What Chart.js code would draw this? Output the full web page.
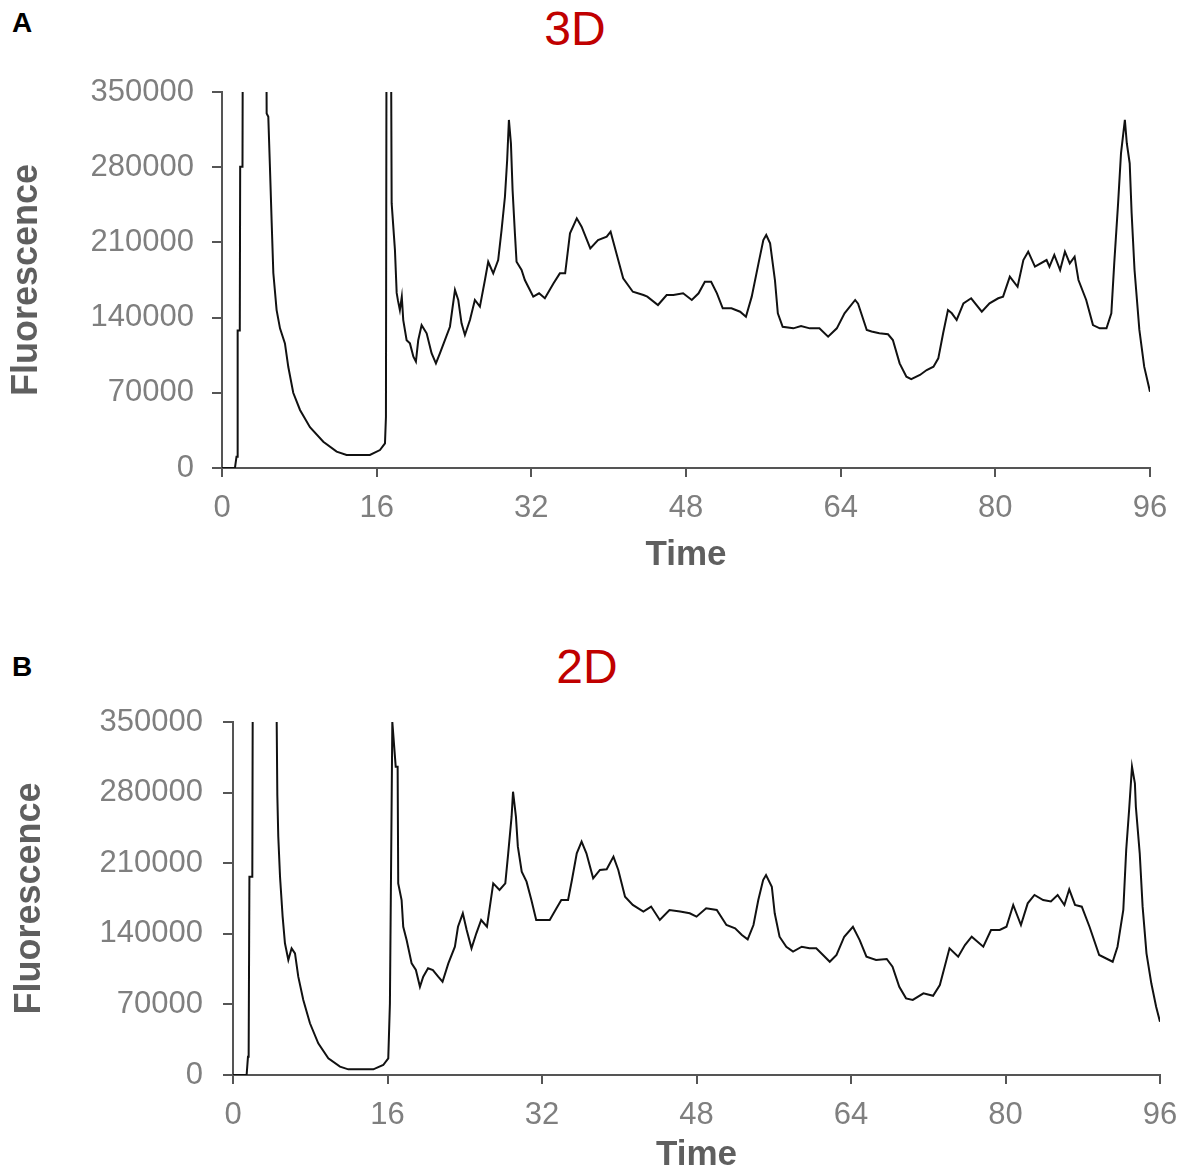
<!DOCTYPE html>
<html>
<head>
<meta charset="utf-8">
<title>Fluorescence 3D / 2D</title>
<script src="https://cdn.jsdelivr.net/npm/chart.js@4.4.0/dist/chart.umd.min.js"></script>
<style>
body{margin:0;background:#fff;font-family:"Liberation Sans",Arial,sans-serif}
#page{position:relative;width:1183px;height:1173px;overflow:hidden}
.panel{position:absolute;left:12px;font-weight:bold;font-size:28px;line-height:28px;color:#000}
.title{position:absolute;color:#c00000;font-size:48px;line-height:48px;transform:translateX(-50%)}
canvas{position:absolute;left:0}
</style>
</head>
<body>
<div id="page">
  <div class="panel" style="top:9px">A</div>
  <div class="title" style="left:575px;top:5px">3D</div>
  <canvas id="chart3d" width="1183" height="590" style="top:0"></canvas>

  <div class="panel" style="top:653px">B</div>
  <div class="title" style="left:587px;top:643px">2D</div>
  <canvas id="chart2d" width="1183" height="543" style="top:630px"></canvas>
</div>

<script>
// tick labels
const timeTicks = [0,16,32,48,64,80,96]
const fluorTicks = [0,70000,140000,210000,280000,350000]

// A - 3D culture (values above 350000 run off the top of the plot)
const time3D = [
  0,1.34,1.5,1.58,1.62,1.84,1.88,2.12,2.2,4.5,
  4.62,4.79,4.96,5.14,5.31,5.65,6.0,6.51,6.86,7.37,
  8.07,9.1,10.48,11.86,12.89,15.3,16.34,16.86,16.96,17.05,
  17.4,17.55,17.89,18.07,18.2,18.4,18.6,18.75,19.1,19.44,
  19.8,20.06,20.3,20.65,21.17,21.68,22.13,22.54,23.06,23.58,
  24.1,24.44,24.78,25.13,25.65,26.16,26.68,27.2,27.54,28.06,
  28.57,28.92,29.27,29.5,29.68,29.89,30.06,30.3,30.47,30.99,
  31.33,31.68,32.2,32.8,33.4,34.3,34.95,35.5,36.0,36.7,
  37.2,38.1,38.9,39.8,40.2,40.8,41.5,42.5,43.6,44.0,
  45.1,46.0,46.7,47.7,48.6,49.3,49.95,50.6,51.2,51.8,
  52.7,53.6,54.2,54.8,55.5,56.0,56.3,56.7,57.2,57.5,
  58.0,59.1,59.9,60.8,61.8,62.7,63.6,64.4,65.5,65.8,
  66.7,67.2,68.0,68.9,69.4,70.1,70.8,71.3,72.2,72.9,
  73.6,74.1,74.6,75.1,75.5,76.0,76.7,77.5,78.6,79.4,
  80.3,80.8,81.5,82.3,82.9,83.4,84.1,85.3,85.6,86.1,
  86.7,87.2,87.7,88.2,88.6,89.4,90.1,90.8,91.5,92.0,
  92.3,92.7,93.0,93.4,93.6,93.9,94.1,94.4,94.9,95.4,96.0
]
const fluor3D = [
  0,0,10500,10500,128000,128000,280500,280500,600000,600000,
  330000,327000,280000,228000,181500,147000,130000,116000,94000,70000,
  54000,38000,24500,15200,12100,12100,16700,23000,47700,600000,
  600000,246500,203000,163000,156000,147000,159500,137700,119000,116000,
  103600,99000,119000,133000,125400,106800,97400,106800,119000,131500,
  165700,156400,134700,123800,137800,156400,150200,175000,192000,181200,
  193600,221500,252500,286700,324000,302000,258800,218500,192000,184300,
  175000,168700,159500,162600,158000,172000,181200,181200,218500,232400,
  224600,204500,212200,215300,220000,199800,176600,164100,161000,159500,
  151700,161000,161000,162600,156400,162600,173400,173400,162600,148600,
  148600,145500,140800,159500,190500,212200,216900,209200,175000,144000,
  131500,130000,132200,130000,130000,122200,130000,144000,156400,153000,
  128500,127000,125400,124500,119100,97400,85000,82800,86600,91200,
  94300,102100,125400,147000,144000,137800,153300,158000,145500,153300,
  158000,159500,178100,168700,193600,201400,187400,193600,187400,198300,
  184300,201400,190500,196700,175000,156400,133000,130000,130000,144000,
  190500,246400,292900,324000,302300,283600,237100,184300,128500,94300,71000
]

// B - 2D culture
const time2D = [
  0,1.41,1.55,1.62,1.7,2.0,2.1,4.3,4.59,4.69,
  4.87,5.14,5.38,5.73,6.07,6.42,6.76,7.28,7.97,8.83,
  9.87,11.08,11.94,14.53,15.56,16.08,16.25,16.5,16.85,17.05,
  17.11,17.46,17.63,17.98,18.5,18.94,19.36,19.7,20.2,20.7,
  21.25,21.7,22.3,22.98,23.3,23.8,24.2,24.7,25.2,25.7,
  26.3,26.95,27.6,28.2,28.5,28.85,29.0,29.3,29.5,29.9,
  30.4,30.9,31.4,32.8,33.5,34.0,34.7,35.1,35.6,36.1,
  36.6,37.3,38.0,38.7,39.4,39.9,40.6,41.4,42.5,43.3,
  44.2,45.2,46.3,47.3,48.0,49.0,50.1,51.1,52.0,52.7,
  53.3,53.9,54.4,54.9,55.2,55.8,56.1,56.6,57.3,58.0,
  58.9,59.7,60.4,61.1,61.8,62.5,63.3,64.2,64.9,65.6,
  66.6,67.7,68.3,69.0,69.7,70.4,71.5,72.5,73.2,73.7,
  74.2,75.1,75.8,76.5,77.7,78.5,79.4,80.1,80.8,81.6,
  82.3,83.0,83.9,84.7,85.4,86.1,86.6,87.2,87.9,88.7,
  89.7,91.1,91.6,92.2,92.5,92.8,93.1,93.4,93.5,93.9,
  94.2,94.6,95.1,95.6,96.0
]
const fluor2D = [
  0,0,18000,18000,196600,196600,600000,600000,277600,236300,
  196600,157000,130600,114000,125600,120600,97500,74400,51300,31400,
  16500,8300,5600,5600,9900,16500,71000,350000,305700,305700,
  190000,173500,147000,133800,110700,104100,87500,97500,105800,104100,
  97500,92500,110700,127200,147000,160300,143800,125600,140500,153700,
  147000,190000,183400,190000,219800,256100,280900,256100,226400,201600,
  191700,173500,153700,153700,165300,173500,173500,193300,219800,231300,
  219800,195000,203300,204000,216500,203300,176800,168600,162000,167000,
  153700,163600,162000,160300,157000,165300,163600,148700,145400,138800,
  134500,148700,173500,193300,198300,186700,160300,137100,127200,122300,
  127200,125600,125600,119000,112300,119000,137100,147000,133800,117300,
  114000,115000,107400,87500,76000,74400,81000,78500,89200,107400,
  125600,117300,128800,137100,127200,143800,143800,147000,168600,148700,
  170200,178500,173500,172000,178500,168600,184100,168600,166900,147000,
  119000,112300,127200,163600,223100,262700,305700,289200,266000,219800,
  166900,120600,90900,67700,52800
]

const axisColor = '#555555'
const tickColor = '#7f7f7f'
const titleColor = '#5f5f5f'
const fontName = "'Liberation Sans', Arial, sans-serif"

function makeChart(id, times, values, box){
  let points = times.map((t,i)=>({x:t, y:values[i]}))
  return new Chart(document.getElementById(id), {
    type:'line',
    data:{
      datasets:[{
        data:points,
        borderColor:'#111111',
        borderWidth:2,
        pointRadius:0,
        tension:0,
        fill:false
      }]
    },
    options:{
      responsive:false,
      animation:false,
      layout:{ padding:{ top:box.top, right:box.right, left:0, bottom:0 } },
      plugins:{ legend:{display:false}, tooltip:{enabled:false}, title:{display:false} },
      scales:{
        x:{
          type:'linear', min:0, max:96,
          afterBuildTicks:s=>{ s.ticks = timeTicks.map(v=>({value:v})) },
          afterFit:s=>{ s.height = box.xHeight; s.paddingLeft = 0; s.paddingRight = 0 },
          grid:{ drawOnChartArea:false, drawTicks:true, tickLength:9, color:axisColor, lineWidth:2 },
          border:{ color:axisColor, width:2 },
          ticks:{ color:tickColor, font:{family:fontName, size:31}, padding:box.xPad, maxRotation:0 },
          title:{ display:true, text:'Time', color:titleColor,
                  font:{family:fontName, size:35, weight:'bold', lineHeight:1},
                  padding:{top:0, bottom:box.xTitlePad} }
        },
        y:{
          type:'linear', min:0, max:350000,
          afterBuildTicks:s=>{ s.ticks = fluorTicks.map(v=>({value:v})) },
          afterFit:s=>{ s.width = box.yWidth },
          grid:{ drawOnChartArea:false, drawTicks:true, tickLength:10, color:axisColor, lineWidth:2 },
          border:{ color:axisColor, width:2 },
          ticks:{ color:tickColor, font:{family:fontName, size:31}, padding:box.yPad,
                  callback:v=>String(v) },
          title:{ display:true, text:'Fluorescence', color:titleColor,
                  font:{family:fontName, size:36, weight:'bold', lineHeight:1},
                  padding:{top:box.yTitlePad, bottom:0} }
        }
      }
    }
  })
}

makeChart('chart3d', time3D, fluor3D,
  {top:92, right:33, xHeight:122, yWidth:222, xPad:13, yPad:18, xTitlePad:17, yTitlePad:9})
makeChart('chart2d', time2D, fluor2D,
  {top:92, right:23, xHeight:98, yWidth:233, xPad:13, yPad:20, xTitlePad:0, yTitlePad:12})
</script>
</body>
</html>
